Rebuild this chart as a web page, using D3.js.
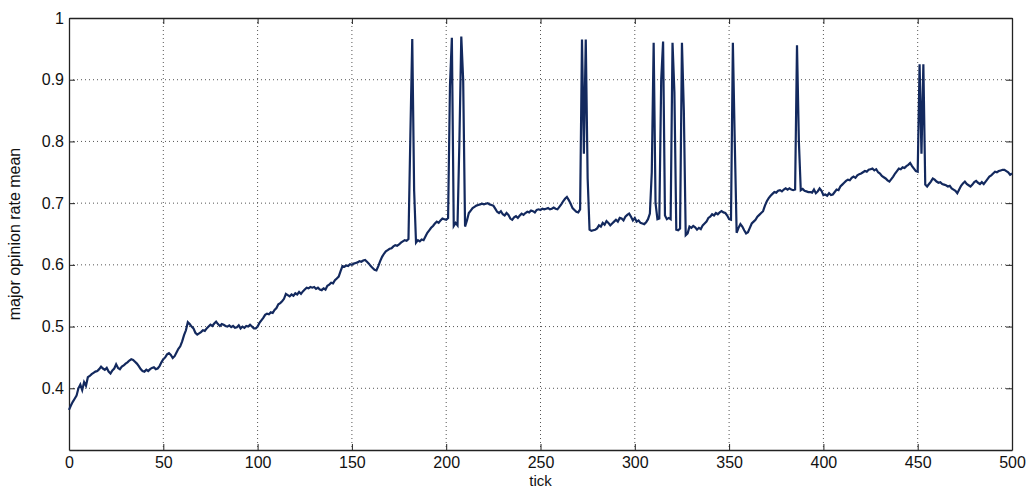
<!DOCTYPE html>
<html>
<head>
<meta charset="utf-8">
<script src="https://cdn.jsdelivr.net/npm/d3@7"></script>
<style>
  body { margin: 0; background: #fff; }
  svg text { font-family: "Liberation Sans", Arial, sans-serif; fill: #111; }
</style>
</head>
<body>
<svg id="chart" width="1029" height="488"></svg>
<script>
// one value per tick, 0..500
const opinionMean = [
  0.365, 0.372, 0.378, 0.383, 0.388, 0.400, 0.406, 0.397, 0.410, 0.404,
  0.418, 0.420, 0.423, 0.425, 0.427, 0.428, 0.431, 0.435, 0.432, 0.430,
  0.433, 0.427, 0.424, 0.429, 0.432, 0.439, 0.433, 0.431, 0.435, 0.437,
  0.440, 0.442, 0.445, 0.447, 0.446, 0.443, 0.440, 0.436, 0.431, 0.428,
  0.427, 0.430, 0.428, 0.431, 0.433, 0.434, 0.431, 0.432, 0.436, 0.442,
  0.447, 0.450, 0.455, 0.457, 0.454, 0.449, 0.452, 0.458, 0.464, 0.468,
  0.476, 0.486, 0.494, 0.507, 0.504, 0.500, 0.497, 0.490, 0.487, 0.489,
  0.491, 0.494, 0.493, 0.497, 0.500, 0.503, 0.501, 0.505, 0.508, 0.504,
  0.501, 0.504, 0.503, 0.501, 0.500, 0.502, 0.499, 0.501, 0.498, 0.499,
  0.502, 0.497, 0.500, 0.498, 0.501, 0.500, 0.503, 0.500, 0.497, 0.497,
  0.500, 0.506, 0.510, 0.514, 0.519, 0.521, 0.520, 0.523, 0.522, 0.527,
  0.530, 0.536, 0.538, 0.541, 0.545, 0.553, 0.551, 0.549, 0.552, 0.550,
  0.554, 0.552, 0.556, 0.553, 0.557, 0.560, 0.563, 0.562, 0.564, 0.563,
  0.564, 0.561, 0.563, 0.560, 0.559, 0.562, 0.560, 0.566, 0.568, 0.571,
  0.570, 0.575, 0.578, 0.581, 0.590, 0.598, 0.597, 0.599, 0.598, 0.601,
  0.600, 0.602, 0.603, 0.604, 0.606, 0.605, 0.607, 0.608, 0.605, 0.602,
  0.598, 0.595, 0.592, 0.591, 0.598, 0.606, 0.613, 0.618, 0.622, 0.624,
  0.626, 0.627, 0.630, 0.632, 0.631, 0.633, 0.636, 0.638, 0.640, 0.639,
  0.642, 0.810, 0.966, 0.720, 0.636, 0.640, 0.638, 0.641, 0.640, 0.646,
  0.652, 0.656, 0.660, 0.663, 0.667, 0.670, 0.668, 0.672, 0.675, 0.674,
  0.673, 0.676, 0.890, 0.968, 0.663, 0.668, 0.664, 0.800, 0.970, 0.900,
  0.662, 0.672, 0.684, 0.688, 0.692, 0.694, 0.696, 0.697, 0.698, 0.699,
  0.698, 0.699, 0.700, 0.698, 0.697, 0.696, 0.691, 0.686, 0.684, 0.687,
  0.682, 0.680, 0.684, 0.681, 0.675, 0.673, 0.677, 0.679, 0.676, 0.680,
  0.683, 0.681, 0.684, 0.686, 0.685, 0.688, 0.687, 0.685, 0.689, 0.690,
  0.689, 0.691, 0.690, 0.691, 0.692, 0.690, 0.691, 0.693, 0.691, 0.690,
  0.694, 0.698, 0.703, 0.707, 0.710, 0.705, 0.699, 0.692, 0.689, 0.686,
  0.685, 0.690, 0.965, 0.780, 0.965, 0.740, 0.657, 0.655, 0.656, 0.657,
  0.659, 0.664, 0.662, 0.668, 0.665, 0.671, 0.668, 0.664, 0.667, 0.670,
  0.673, 0.670, 0.676, 0.675, 0.672, 0.678, 0.681, 0.683, 0.678, 0.672,
  0.676, 0.670, 0.672, 0.668, 0.667, 0.666, 0.669, 0.674, 0.683, 0.750,
  0.960, 0.700, 0.674, 0.675, 0.900, 0.962, 0.680, 0.674, 0.676, 0.674,
  0.960, 0.880, 0.657, 0.656, 0.659, 0.960, 0.850, 0.648, 0.651, 0.662,
  0.660, 0.663, 0.661, 0.657, 0.660, 0.658, 0.664, 0.667, 0.670, 0.676,
  0.678, 0.682, 0.680, 0.684, 0.682, 0.685, 0.687, 0.685, 0.684, 0.680,
  0.674, 0.673, 0.960, 0.800, 0.652, 0.660, 0.666, 0.662, 0.656, 0.651,
  0.653, 0.660, 0.667, 0.670, 0.673, 0.678, 0.681, 0.684, 0.687, 0.696,
  0.703, 0.708, 0.712, 0.715, 0.718, 0.717, 0.720, 0.721, 0.719, 0.722,
  0.724, 0.722, 0.724, 0.722, 0.721, 0.722, 0.956, 0.800, 0.721, 0.723,
  0.720, 0.719, 0.718, 0.718, 0.717, 0.722, 0.716, 0.719, 0.724, 0.720,
  0.713, 0.714, 0.712, 0.716, 0.713, 0.714, 0.718, 0.722, 0.721, 0.727,
  0.730, 0.733, 0.736, 0.738, 0.737, 0.741, 0.743, 0.741, 0.745, 0.747,
  0.748, 0.750, 0.752, 0.751, 0.754, 0.755, 0.756, 0.753, 0.755, 0.750,
  0.748, 0.744, 0.742, 0.740, 0.737, 0.735, 0.739, 0.743, 0.748, 0.752,
  0.756, 0.755, 0.758, 0.757, 0.760, 0.762, 0.765, 0.760, 0.756, 0.752,
  0.751, 0.925, 0.780, 0.925, 0.730, 0.727, 0.731, 0.735, 0.740, 0.738,
  0.735, 0.733, 0.734, 0.731, 0.730, 0.729, 0.727, 0.728, 0.724, 0.722,
  0.720, 0.716, 0.722, 0.728, 0.732, 0.735, 0.731, 0.729, 0.727, 0.730,
  0.734, 0.736, 0.733, 0.731, 0.734, 0.731, 0.735, 0.739, 0.743, 0.745,
  0.748, 0.751, 0.750, 0.752, 0.753, 0.754, 0.754, 0.752, 0.750, 0.746,
  0.748
];
const xTicks = [0, 50, 100, 150, 200, 250, 300, 350, 400, 450, 500];
const yTicks = [0.4, 0.5, 0.6, 0.7, 0.8, 0.9, 1];
const xLabel = "tick";
const yLabel = "major opinion rate mean";

const margin = { top: 18, right: 17, bottom: 38, left: 69 };
const svg = d3.select("#chart");
const width = +svg.attr("width") - margin.left - margin.right;
const height = +svg.attr("height") - margin.top - margin.bottom;

const x = d3.scaleLinear().domain([0, 500]).range([0, width]);
const y = d3.scaleLinear().domain([0.3, 1]).range([height, 0]);

const g = svg.append("g").attr("transform", `translate(${margin.left},${margin.top})`);

// dotted grid
g.append("g").selectAll("line").data(xTicks.slice(1, -1)).join("line")
  .attr("x1", d => x(d)).attr("x2", d => x(d)).attr("y1", 0).attr("y2", height)
  .attr("stroke", "#555").attr("stroke-width", 1).attr("stroke-dasharray", "1,3");
g.append("g").selectAll("line").data(yTicks.slice(0, -1)).join("line")
  .attr("x1", 0).attr("x2", width).attr("y1", d => y(d)).attr("y2", d => y(d))
  .attr("stroke", "#555").attr("stroke-width", 1).attr("stroke-dasharray", "1,3");

// axes, matlab style: ticks inward on all four sides
const axisStyle = (sel) => {
  sel.select(".domain").attr("stroke", "#222");
  sel.selectAll(".tick line").attr("stroke", "#222");
  sel.selectAll(".tick text").style("font-size", "16px");
};
g.append("g").attr("transform", `translate(0,${height})`)
  .call(d3.axisBottom(x).tickValues(xTicks).tickSizeInner(-6).tickSizeOuter(0).tickPadding(7))
  .call(axisStyle);
g.append("g")
  .call(d3.axisLeft(y).tickValues(yTicks).tickFormat(d3.format("")).tickSizeInner(-6).tickSizeOuter(0).tickPadding(5))
  .call(axisStyle);
g.append("g")
  .call(d3.axisTop(x).tickValues(xTicks).tickSizeInner(-6).tickSizeOuter(0).tickFormat(""))
  .call(axisStyle);
g.append("g").attr("transform", `translate(${width},0)`)
  .call(d3.axisRight(y).tickValues(yTicks).tickSizeInner(-6).tickSizeOuter(0).tickFormat(""))
  .call(axisStyle);
g.selectAll(".domain").attr("stroke-width", 1.3);

const line = d3.line()
  .x((d, i) => x(i))
  .y(d => y(d));

g.append("path")
  .datum(opinionMean)
  .attr("fill", "none")
  .attr("stroke", "#13295e")
  .attr("stroke-width", 2.2)
  .attr("stroke-linejoin", "miter")
  .attr("d", line);

svg.append("text")
  .attr("x", margin.left + width / 2)
  .attr("y", 486)
  .attr("text-anchor", "middle")
  .style("font-size", "15px")
  .text(xLabel);

svg.append("text")
  .attr("transform", `translate(20,${margin.top + height / 2}) rotate(-90)`)
  .attr("text-anchor", "middle")
  .style("font-size", "16px")
  .text(yLabel);
</script>
</body>
</html>
